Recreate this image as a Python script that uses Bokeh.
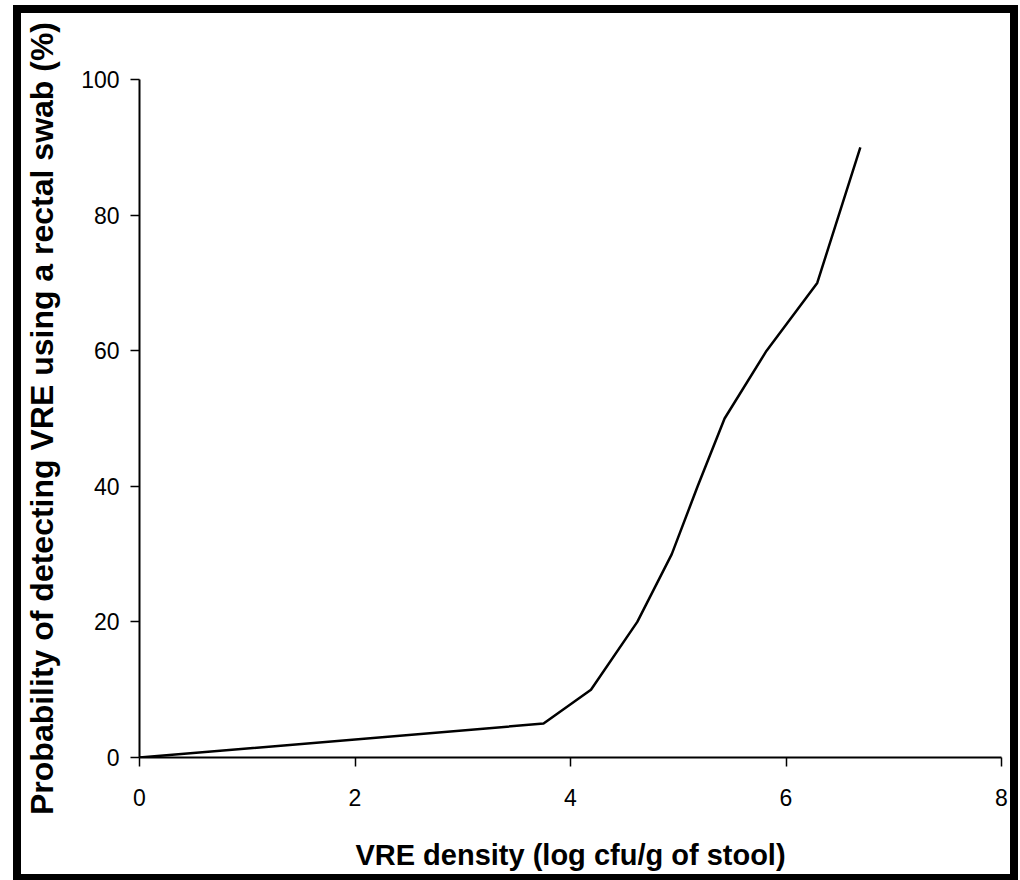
from bokeh.plotting import figure
from bokeh.embed import file_html
from bokeh.resources import INLINE
from bokeh.models import Range1d, FixedTicker

density = [0.0, 3.75, 4.19, 4.62, 4.94, 5.18, 5.43, 5.82, 6.29, 6.69]
probability = [0, 5, 10, 20, 30, 40, 50, 60, 70, 90]
x_ticks = [0, 2, 4, 6, 8]
y_ticks = [0, 20, 40, 60, 80, 100]

p = figure(width=989, height=861, output_backend="svg", toolbar_location=None,
           x_range=Range1d(0, 8), y_range=Range1d(0, 100),
           min_border_left=116, min_border_right=9, min_border_top=66, min_border_bottom=117)
p.styles = {"margin-left": "21px", "margin-top": "13px", "outline": "8px solid black"}
p.outline_line_color = None
p.xgrid.visible = False
p.ygrid.visible = False

p.line(density, probability, line_color="black", line_width=2.5)

for ax in (p.xaxis[0], p.yaxis[0]):
    ax.axis_line_color = "black"
    ax.axis_line_width = 2
    ax.major_tick_line_color = "black"
    ax.major_tick_line_width = 1.5
    ax.major_tick_in = 0
    ax.major_tick_out = 9
    ax.minor_tick_line_color = None
    ax.major_label_text_font = "Liberation Sans"
    ax.major_label_text_font_size = "23px"
    ax.major_label_text_color = "black"
    ax.axis_label_text_font = "Liberation Sans"
    ax.axis_label_text_font_style = "bold"
    ax.axis_label_text_color = "black"

p.xaxis.axis_label_text_font_size = "29px"
p.yaxis.axis_label_text_font_size = "32px"
p.xaxis.ticker = FixedTicker(ticks=x_ticks)
p.yaxis.ticker = FixedTicker(ticks=y_ticks)
p.xaxis.axis_label = "VRE density (log cfu/g of stool)"
p.yaxis.axis_label = "Probability of detecting VRE using a rectal swab (%)"
p.xaxis.major_label_standoff = 22
p.yaxis.major_label_standoff = 11
p.xaxis.axis_label_standoff = 30
p.yaxis.axis_label_standoff = 18

open("out.html", "w").write(file_html(p, INLINE))
